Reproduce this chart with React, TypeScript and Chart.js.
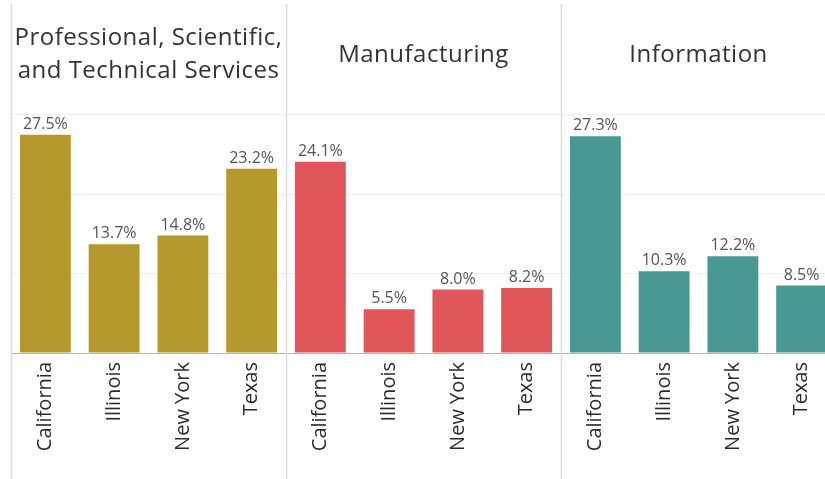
import { useEffect, useRef } from "react";
import { Chart, registerables } from "chart.js";

Chart.register(...registerables);

// States shown under each industry panel
const states = ["California", "Illinois", "New York", "Texas"];
// Panel headers (one entry per line)
const industryTitles = [
  ["Professional, Scientific,", "and Technical Services"],
  ["Manufacturing"],
  ["Information"],
];
// Share of industry employment by state, in percent
const professional = [27.5, 13.7, 14.8, 23.2];
const manufacturing = [24.1, 5.5, 8.0, 8.2];
const information = [27.3, 10.3, 12.2, 8.5];
const industryColors = ["#B6992D", "#E15759", "#499894"];
const yMax = 32;
const yStep = 10;

const FONT = "'Open Sans', 'Noto Sans', sans-serif";

const panels = [professional, manufacturing, information];
const labels = panels.flatMap(() => states);
const values = panels.flat();
const barColors = panels.flatMap((p, i) => p.map(() => industryColors[i]));

const panelPlugin = {
  id: "panelDecor",
  afterDatasetsDraw(chart: any) {
    const { ctx, scales } = chart;
    const y = scales.y;
    const meta = chart.getDatasetMeta(0);
    ctx.save();
    // value labels above bars
    ctx.font = `16px ${FONT}`;
    ctx.fillStyle = "#555555";
    ctx.textAlign = "center";
    ctx.textBaseline = "alphabetic";
    meta.data.forEach((bar: any, i: number) => {
      ctx.fillText(values[i].toFixed(1) + "%", bar.x, y.getPixelForValue(values[i]) - 6);
    });
    ctx.restore();
  },
  afterDraw(chart: any) {
    const { ctx, scales } = chart;
    const x = scales.x;
    const w = (x.right - x.left) / labels.length;
    ctx.save();
    // panel separators
    ctx.strokeStyle = "#dcdcdc";
    ctx.lineWidth = 1.5;
    for (let k = 0; k < panels.length; k++) {
      const bx = Math.round(x.left + k * states.length * w) + 0.5;
      ctx.beginPath();
      ctx.moveTo(bx, 4);
      ctx.lineTo(bx, chart.height);
      ctx.stroke();
    }
    // panel headers
    ctx.font = `24px ${FONT}`;
    (ctx as any).letterSpacing = "0.5px";
    ctx.fillStyle = "#333333";
    ctx.textAlign = "center";
    ctx.textBaseline = "middle";
    const lineH = 33;
    const midY = 55;
    industryTitles.forEach((lines, k) => {
      const cx = x.left + (k * states.length + states.length / 2) * w;
      const top = midY - ((lines.length - 1) * lineH) / 2;
      lines.forEach((t, j) => ctx.fillText(t, cx, top + j * lineH));
    });
    ctx.restore();
  },
};

export default function App() {
  const ref = useRef<HTMLCanvasElement>(null);

  useEffect(() => {
    if (!ref.current) return;
    const chart = new Chart(ref.current, {
      type: "bar",
      data: {
        labels,
        datasets: [
          {
            data: values,
            backgroundColor: barColors,
            borderWidth: 0,
            categoryPercentage: 1,
            barPercentage: 0.74,
          },
        ],
      },
      options: {
        responsive: false,
        animation: false,
        layout: { padding: { top: 99, left: 11, right: 14, bottom: 0 } },
        plugins: { legend: { display: false }, tooltip: { enabled: false } },
        scales: {
          x: {
            offset: true,
            ticks: {
              autoSkip: false,
              minRotation: 90,
              maxRotation: 90,
              padding: 4,
              color: "#2b2b2b",
              font: { family: FONT, size: 20 },
            },
            grid: {
              offset: true,
              drawOnChartArea: false,
              drawTicks: true,
              tickLength: 5,
              color: "#eeeeee",
            },
            border: { display: true, color: "#b5b5b5", dash: [2, 2], width: 1 },
            afterFit: (s: any) => {
              s.height = 126;
            },
          },
          y: {
            min: 0,
            max: yMax,
            ticks: { display: false, stepSize: yStep },
            grid: {
              drawTicks: false,
              color: (c: any) =>
                c.tick && c.tick.value > 0 && c.tick.value % yStep === 0 ? "#eeeeee" : "rgba(0,0,0,0)",
            },
            border: { display: false },
            afterFit: (s: any) => {
              s.width = 0;
            },
          },
        },
      },
      plugins: [panelPlugin],
    });
    return () => chart.destroy();
  }, []);

  return (
    <div
      style={{
        position: "fixed",
        left: 0,
        top: 0,
        width: 825,
        height: 479,
        overflow: "hidden",
        background: "#ffffff",
      }}
    >
      <canvas ref={ref} width={850} height={479} />
    </div>
  );
}
